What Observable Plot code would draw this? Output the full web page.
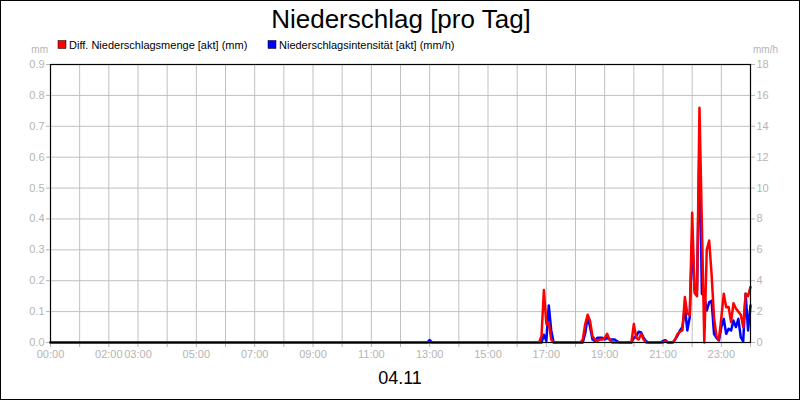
<!DOCTYPE html>
<html>
<head>
<meta charset="utf-8">
<script src="https://cdn.jsdelivr.net/npm/d3@7"></script>
<script src="https://cdn.jsdelivr.net/npm/@observablehq/plot@0.6"></script>
<style>
  html, body { margin: 0; padding: 0; background: white; }
  svg { display: block; }
</style>
</head>
<body>
<div id="chart"></div>
<script>
// ---- data ----
const title = "Niederschlag [pro Tag]";
const dateLabel = "04.11";
const redName = "Diff. Niederschlagsmenge [akt] (mm)";
const blueName = "Niederschlagsintensität [akt] (mm/h)";

const redTimes = ["00:00","16:45","16:50","16:55","17:00","17:05","17:10","17:15",
  "18:10","18:15","18:20","18:25","18:30","18:35","18:40","18:45","18:50","18:55","19:00","19:05","19:10","19:15",
  "19:55","20:00","20:05","20:10","20:15","20:20","20:25",
  "21:00","21:05","21:10","21:20","21:25","21:30","21:35","21:40","21:45","21:50","21:55",
  "22:00","22:05","22:10","22:15","22:20","22:25","22:30","22:35","22:40","22:45","22:50","22:55",
  "23:00","23:05","23:10","23:15","23:20","23:25","23:30","23:35","23:40","23:45","23:50","23:55","24:00"];
const redValues = [0,0,0.02,0.17,0.06,0.065,0.01,0,
  0,0.01,0.06,0.09,0.07,0.02,0.01,0.005,0.01,0.01,0.015,0.028,0.01,0,
  0,0.06,0.015,0.01,0.028,0.01,0,
  0,0.005,0,0,0.01,0.028,0.035,0.04,0.147,0.093,0.088,
  0.42,0.16,0.15,0.76,0.38,0,0.30,0.33,0.22,0.08,0.02,0.01,
  0.08,0.158,0.114,0.115,0.066,0.127,0.11,0.10,0.09,0.05,0.158,0.15,0.18];

const blueTimes = ["00:00","12:55","13:00","13:05","16:50","16:55","17:00","17:05","17:10","17:15",
  "18:15","18:20","18:25","18:30","18:35","18:40","18:45","18:50","18:55","19:00","19:05","19:10","19:15","19:20","19:25","19:30",
  "19:55","20:00","20:05","20:10","20:15","20:20","20:25","20:30",
  "20:55","21:00","21:05","21:10","21:20","21:25","21:30","21:35","21:40","21:45","21:50","21:55",
  "22:00","22:05","22:10","22:15","22:20","22:25","22:30","22:35","22:40","22:45","22:50","22:55",
  "23:00","23:05","23:10","23:15","23:20","23:25","23:30","23:35","23:40","23:45","23:50","23:55","24:00"];
const blueValues = [0,0,0.15,0,0,0.5,0.1,2.4,0.8,0,
  0,0.6,1.7,1.0,0.2,0.1,0.3,0.3,0.3,0.2,0.3,0.2,0.2,0.2,0.1,0,
  0,0.3,0.4,0.7,0.65,0.3,0.1,0,
  0,0.1,0.15,0,0,0.2,0.45,0.78,1.0,2.3,0.78,1.64,
  6.8,3.37,3.4,13,3.15,3.0,2.07,2.6,2.7,0.56,0.3,0.13,
  1.0,1.53,0.56,0.89,0.78,1.42,1.0,1.53,0.34,0.08,3.15,0.78,2.4];

const leftTicks = [0,0.1,0.2,0.3,0.4,0.5,0.6,0.7,0.8,0.9];
const rightTicks = [0,2,4,6,8,10,12,14,16,18];
const gridHours = d3.range(0, 25);
const labelHours = [0,2,3,5,7,9,11,13,15,17,19,21,23];
const labelTexts = ["00:00","02:00","03:00","05:00","07:00","09:00","11:00","13:00","15:00","17:00","19:00","21:00","23:00"];

// ---- build ----
const toHours = s => { const [h, m] = s.split(":").map(Number); return h + m / 60; };
const ratio = rightTicks[rightTicks.length - 1] / leftTicks[leftTicks.length - 1];
const red = redTimes.map((t, i) => ({t: toHours(t), v: redValues[i]}));
const blue = blueTimes.map((t, i) => ({t: toHours(t), v: blueValues[i] / ratio}));

const gray = "#b4b4b4";
const font = "'Liberation Sans', Arial, sans-serif";

const plot = Plot.plot({
  width: 800, height: 400,
  marginLeft: 50, marginRight: 50, marginTop: 64, marginBottom: 58,
  style: {fontFamily: font, fontSize: "11px", background: "white", overflow: "visible"},
  x: {domain: [0, 24], axis: null},
  y: {domain: [0, 0.9], axis: null},
  marks: [
    Plot.gridX(gridHours, {stroke: "#c0c0c0", strokeOpacity: 1}),
    Plot.gridY(leftTicks, {stroke: "#c0c0c0", strokeOpacity: 1}),
    Plot.axisX(gridHours, {anchor: "bottom", tickSize: 5, tickFormat: () => "", stroke: gray, label: null}),
    Plot.axisX(labelHours, {anchor: "bottom", tickSize: 0, tickPadding: 8, tickFormat: d => labelTexts[labelHours.indexOf(d)], fill: gray, label: null}),
    Plot.axisY(leftTicks, {anchor: "left", tickSize: 4, tickPadding: 2, tickFormat: d3.format(".1f"), stroke: gray, fill: gray, label: null}),
    Plot.axisY(rightTicks.map(v => v / ratio), {anchor: "right", tickSize: 4, tickPadding: 2, tickFormat: d => String(Math.round(d * ratio)), stroke: gray, fill: gray, label: null}),
    Plot.line(blue, {x: "t", y: "v", stroke: "#0000ff", strokeWidth: 2.5}),
    Plot.line(red, {x: "t", y: "v", stroke: "#ff0000", strokeWidth: 2.5}),
    Plot.frame({stroke: "black", strokeWidth: 1.2})
  ]
});

const svg = d3.select(plot);
const addText = (x, y, size, anchor, fill, str) =>
  svg.append("text").attr("x", x).attr("y", y).attr("text-anchor", anchor)
    .style("text-anchor", anchor)
    .attr("font-size", size).attr("font-family", font).attr("fill", fill).text(str);

svg.append("rect").attr("x", 0.5).attr("y", 0.5).attr("width", 799).attr("height", 399)
  .attr("fill", "none").attr("stroke", "black").attr("stroke-width", 1);
addText(401, 28, 26, "middle", "black", title);
svg.append("rect").attr("x", 58).attr("y", 40.5).attr("width", 8).attr("height", 8).attr("fill", "#ff0000").attr("stroke", "black").attr("stroke-width", 0.5);
addText(69, 48.5, 11, "start", "black", redName);
svg.append("rect").attr("x", 268).attr("y", 40.5).attr("width", 8).attr("height", 8).attr("fill", "#0000ff").attr("stroke", "black").attr("stroke-width", 0.5);
addText(279, 48.5, 11, "start", "black", blueName);
addText(48, 53, 10, "end", gray, "mm");
addText(753, 53, 10, "start", gray, "mm/h");
addText(400, 384, 18, "middle", "black", dateLabel);

document.getElementById("chart").appendChild(plot);
</script>
</body>
</html>
